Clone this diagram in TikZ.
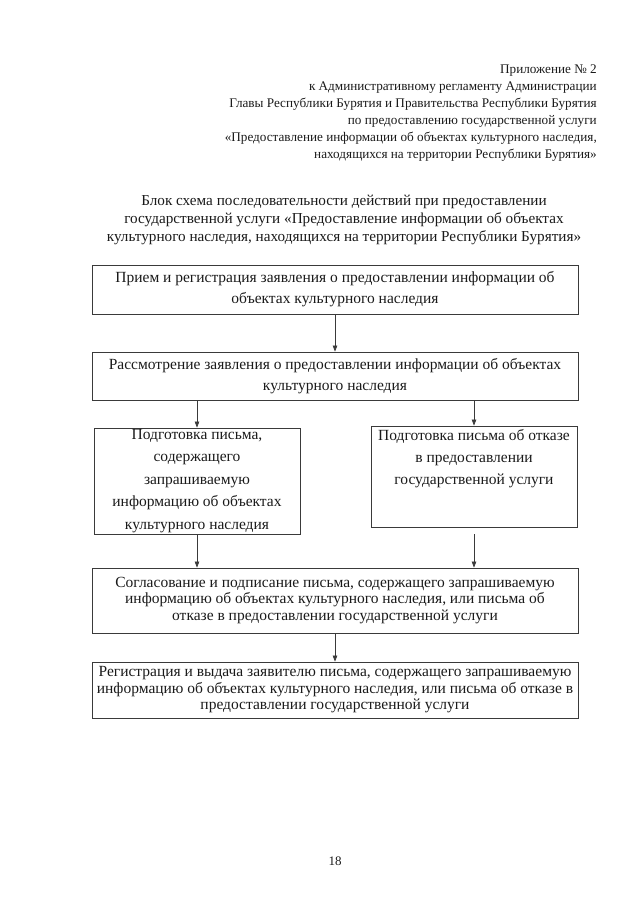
\documentclass[tikz,border=0pt]{standalone}
\usepackage{fontspec}
\setmainfont{Liberation Serif}
\usetikzlibrary{arrows.meta,positioning}
\definecolor{docInk}{HTML}{1a1a1a}
\definecolor{docLine}{HTML}{3a3a3a}
\tikzset{
  >={Triangle[length=6pt,width=4.5pt]},
  blok/.style={draw=docLine, line width=0.8pt, align=center, inner sep=1pt,
               text=docInk, font=\fontsize{15.5}{21}\selectfont},
  wide/.style={blok, minimum width=486pt},
  tight/.style={font=\fontsize{15.5}{16.5}\selectfont},
  shag/.style={->, draw=docLine, line width=0.7pt},
  hdr/.style={align=right, text=docInk, inner sep=0pt,
              font=\fontsize{13.2}{17}\selectfont},
  ttl/.style={align=center, text=docInk, inner sep=0pt,
              font=\fontsize{15.2}{18}\selectfont},
}
\begin{document}
\begin{tikzpicture}[x=1pt,y=-1pt]
  \useasboundingbox (0,0) rectangle (640,905);
  % header and title
  \node[hdr,anchor=north east] (pril) at (597,65)
       {Приложение №~2\\к Административному регламенту Администрации\\
        Главы Республики Бурятия и Правительства Республики Бурятия\\
        по предоставлению государственной услуги\\
        «Предоставление информации об объектах культурного наследия,\\
        находящихся на территории Республики Бурятия»};
  \node[ttl,anchor=north] (zagl) at (344,195)
       {Блок схема последовательности действий при предоставлении\\
        государственной услуги «Предоставление информации об объектах\\
        культурного наследия, находящихся на территории Республики Бурятия»};
  % boxes
  \node[wide,minimum height=49pt] (priem) at (335,289.5)
       {Прием и регистрация заявления о предоставлении информации об\\
        объектах культурного наследия};
  \node[wide,minimum height=48pt] (rassm) at (335,376)
       {Рассмотрение заявления о предоставлении информации об объектах\\
        культурного наследия};
  \node[blok,minimum width=206pt,minimum height=106pt,
        font=\fontsize{15.5}{22.5}\selectfont] (pismo) at (197,481)
       {Подготовка письма,\\содержащего\\запрашиваемую\\
        информацию об объектах\\культурного наследия};
  \node[blok,minimum width=206pt,minimum height=101pt] (otkaz) at (474,476.5) {};
  \node[anchor=north,align=center,inner sep=0pt,text=docInk,
        font=\fontsize{15.5}{22}\selectfont] (otkazT) at ([yshift=-4pt]otkaz.north)
       {Подготовка письма об отказе\\в предоставлении\\государственной услуги};
  \node[wide,tight,minimum height=65pt] (soglas) at (335,600.5)
       {Согласование и подписание письма, содержащего запрашиваемую\\
        информацию об объектах культурного наследия, или письма об\\
        отказе в предоставлении государственной услуги};
  \node[wide,tight,minimum height=56pt] (vydacha) at (335,690)
       {Регистрация и выдача заявителю письма, содержащего запрашиваемую\\
        информацию об объектах культурного наследия, или письма об отказе в\\
        предоставлении государственной услуги};
  % arrows
  \draw[shag] (priem) -- (rassm);
  \foreach \v in {pismo,otkaz}{
    \draw[shag] (rassm.south -| \v.north) -- (\v.north);
  }
  \draw[shag] (pismo.south) -- (pismo.south |- soglas.north);
  \draw[shag] ([yshift=-7pt]otkaz.south) -- (otkaz.south |- soglas.north);
  \draw[shag] (soglas) -- (vydacha);
  \node[font=\fontsize{13}{14}\selectfont,text=docInk] (nomer) at (335,861) {18};
\end{tikzpicture}
\end{document}
